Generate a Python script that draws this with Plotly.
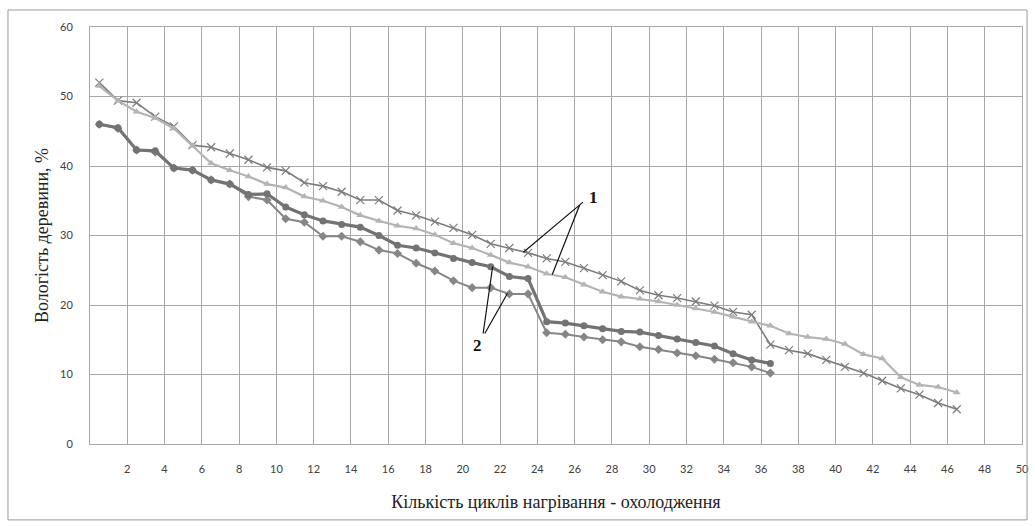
import plotly.graph_objects as go

# x positions (cycle midpoints)
x_long = [i + 0.5 for i in range(47)]
x_short = [i + 0.5 for i in range(37)]

# Series 1 (x markers)
s1_cross = [52.0, 49.4, 49.1, 47.1, 45.7, 43.0, 42.7, 41.8, 40.9, 39.8,
            39.3, 37.6, 37.1, 36.3, 35.1, 35.1, 33.6, 32.9, 32.0, 31.1,
            30.1, 28.8, 28.2, 27.5, 26.7, 26.2, 25.3, 24.3, 23.4, 22.1,
            21.4, 21.0, 20.5, 19.9, 19.0, 18.6, 14.3, 13.5, 13.0, 12.1,
            11.1, 10.2, 9.1, 8.0, 7.1, 5.9, 5.0]
# Series 1 (triangle markers)
s1_tri = [51.5, 49.4, 47.8, 46.9, 45.4, 42.9, 40.4, 39.4, 38.5, 37.4,
          36.9, 35.6, 35.0, 34.1, 32.9, 32.1, 31.4, 31.0, 30.1, 28.9,
          28.2, 27.2, 26.1, 25.5, 24.5, 24.0, 22.9, 21.9, 21.2, 20.9,
          20.5, 20.0, 19.5, 19.0, 18.3, 17.6, 17.0, 15.9, 15.4, 15.1,
          14.4, 12.9, 12.3, 9.6, 8.5, 8.2, 7.4]
# Series 2 (thick, circle markers)
s2_circ = [46.0, 45.5, 42.3, 42.2, 39.7, 39.4, 38.0, 37.4, 35.9, 36.0,
           34.1, 33.0, 32.1, 31.6, 31.2, 30.0, 28.6, 28.2, 27.5, 26.7,
           26.1, 25.5, 24.1, 23.8, 17.6, 17.4, 17.0, 16.6, 16.2, 16.1,
           15.6, 15.1, 14.6, 14.1, 13.0, 12.1, 11.6]
# Series 2 (diamond markers)
s2_diam = [46.0, 45.4, 42.3, 42.0, 39.7, 39.4, 38.0, 37.4, 35.6, 35.1,
           32.4, 31.9, 29.9, 29.9, 29.1, 27.9, 27.4, 26.0, 24.9, 23.5,
           22.5, 22.5, 21.6, 21.6, 16.0, 15.8, 15.4, 15.0, 14.7, 14.0,
           13.6, 13.1, 12.7, 12.2, 11.7, 11.1, 10.2]

x_ticks = list(range(2, 51, 2))
y_ticks = list(range(0, 61, 10))

fig = go.Figure()
fig.add_trace(go.Scatter(x=x_long, y=s1_cross, mode="lines+markers",
                         line=dict(color="#7c7c7c", width=1.6),
                         marker=dict(symbol="x-thin", size=8,
                                     line=dict(color="#7c7c7c", width=1.2))))
fig.add_trace(go.Scatter(x=x_long, y=s1_tri, mode="lines+markers",
                         line=dict(color="#b4b4b4", width=2.2),
                         marker=dict(symbol="triangle-up", size=7, color="#b4b4b4")))
fig.add_trace(go.Scatter(x=x_short, y=s2_diam, mode="lines+markers",
                         line=dict(color="#868686", width=2),
                         marker=dict(symbol="diamond", size=7, color="#868686")))
fig.add_trace(go.Scatter(x=x_short, y=s2_circ, mode="lines+markers",
                         line=dict(color="#737373", width=3.2),
                         marker=dict(symbol="circle", size=7, color="#737373")))

# leader lines for labels
leaders = [
    (26.45, 34.8, 23.25, 27.6),
    (26.27, 34.4, 24.8, 24.4),
    (21.09, 15.9, 21.6, 25.5),
    (21.18, 15.9, 22.4, 21.7),
]
shapes = []
for x0, y0, x1, y1 in leaders:
    shapes.append(dict(type="line", xref="x", yref="y", x0=x0, y0=y0, x1=x1, y1=y1,
                       line=dict(color="#111111", width=1.2)))
# outer chart border
shapes.append(dict(type="rect", xref="paper", yref="paper",
                   x0=-0.088, x1=1.0054, y0=-0.182, y1=1.0408,
                   line=dict(color="#9a9a9a", width=1), layer="above"))

fig.update_layout(
    width=1035, height=526,
    margin=dict(l=90, r=13, t=27, b=82),
    paper_bgcolor="white", plot_bgcolor="white",
    showlegend=False,
    shapes=shapes,
    annotations=[
        dict(x=27.0, y=35.4, xref="x", yref="y", text="<b>1</b>", showarrow=False,
             font=dict(family="Liberation Serif", size=17, color="#111111")),
        dict(x=20.8, y=14.2, xref="x", yref="y", text="<b>2</b>", showarrow=False,
             font=dict(family="Liberation Serif", size=17, color="#111111")),
    ],
    xaxis=dict(range=[0, 50], tickvals=x_ticks, ticktext=[str(v) for v in x_ticks],
               showgrid=True, gridcolor="#a8a8a8", gridwidth=1,
               showline=True, linecolor="#a8a8a8", mirror=True,
               ticks="", zeroline=False, automargin=False,
               ticklabelstandoff=15,
               tickfont=dict(family="Lato", size=11, color="#404040"),
               title=dict(text="Кількість циклів нагрівання - охолодження",
                          font=dict(family="Liberation Serif", size=18, color="#222222"),
                          standoff=21)),
    yaxis=dict(range=[0, 60], tickvals=y_ticks,
               showgrid=True, gridcolor="#a8a8a8", gridwidth=1,
               showline=True, linecolor="#a8a8a8", mirror=True,
               ticks="", zeroline=False, ticklabelstandoff=14, automargin=False,
               tickfont=dict(family="Lato", size=11, color="#404040"),
               title=dict(text="Вологість деревини, %",
                          font=dict(family="Liberation Serif", size=18, color="#222222"),
                          standoff=6)),
)

fig.write_html("out.html", config={"displayModeBar": False},
               post_script="document.body.style.margin='0';document.body.style.overflow='hidden';")
